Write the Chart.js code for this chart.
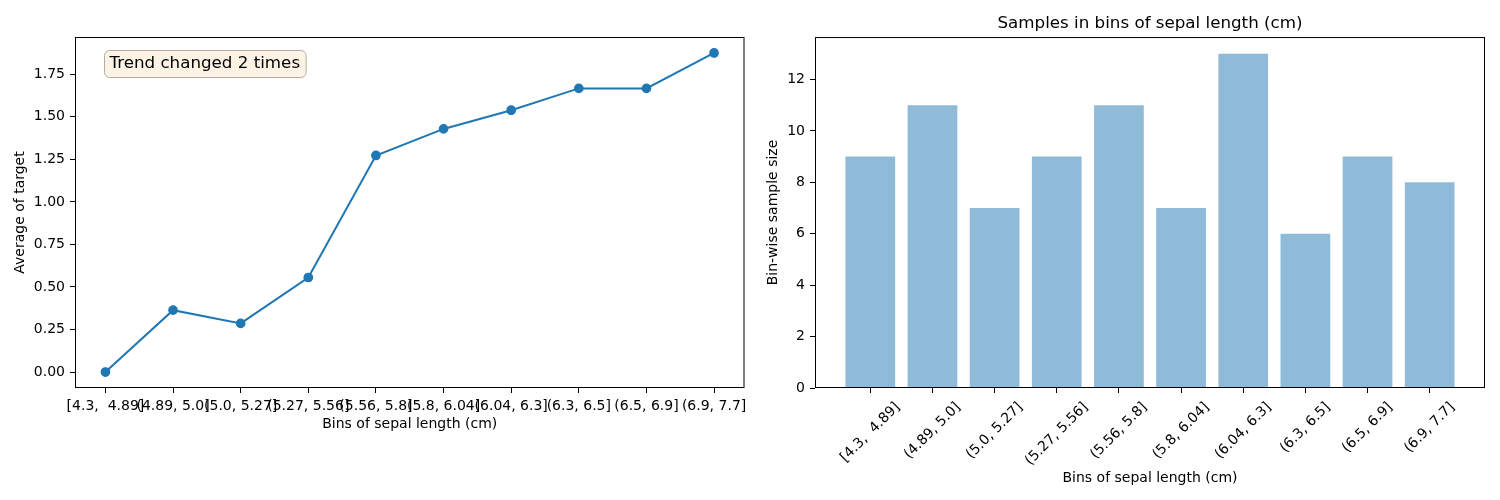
<!DOCTYPE html>
<html>
<head>
<meta charset="utf-8">
<script src="https://cdn.jsdelivr.net/npm/chart.js@4.4.0/dist/chart.umd.min.js"></script>
<style>
  html, body { margin: 0; padding: 0; background: #fff; }
  #wrap { position: relative; width: 1500px; height: 500px; }
  .panel { position: absolute; top: 0; width: 750px; height: 500px; }
</style>
</head>
<body>
<div id="wrap">
  <div class="panel" style="left:0"><canvas id="trendChart" width="750" height="500"></canvas></div>
  <div class="panel" style="left:750px"><canvas id="countChart" width="750" height="500"></canvas></div>
</div>
<script>
"use strict";

// data
const binLabels = [
  "[4.3,  4.89]", "(4.89, 5.0]", "(5.0, 5.27]", "(5.27, 5.56]", "(5.56, 5.8]",
  "(5.8, 6.04]", "(6.04, 6.3]", "(6.3, 6.5]", "(6.5, 6.9]", "(6.9, 7.7]"
];
const targetMeans = [0.0, 0.3636, 0.2857, 0.5556, 1.2727, 1.4286, 1.5385, 1.6667, 1.6667, 1.875];
const sampleSizes = [9, 11, 7, 9, 11, 7, 13, 6, 9, 8];
const trendTicks = [0, 0.25, 0.5, 0.75, 1.0, 1.25, 1.5, 1.75];
const countTicks = [0, 2, 4, 6, 8, 10, 12];
const trendNote = "Trend changed 2 times";
const xTitle = "Bins of sepal length (cm)";

const BLUE = "#1f77b4";
const FONT = "'DejaVu Sans', sans-serif";

Chart.defaults.font.family = FONT;
Chart.defaults.font.size = 14;
Chart.defaults.color = "#000";

const binIndex = binLabels.map((_, i) => i);

// black box round the plot area, like matplotlib spines
const framePlugin = {
  id: "frame",
  afterDraw(chart) {
    const a = chart.chartArea;
    const ctx = chart.ctx;
    ctx.save();
    ctx.strokeStyle = "#000";
    ctx.lineWidth = 1;
    ctx.strokeRect(a.left + 0.5, a.top + 0.5, a.right - a.left - 1, a.bottom - a.top - 1);
    ctx.restore();
  },
};

const tickGrid = {
  drawOnChartArea: false,
  drawTicks: true,
  tickLength: 5,
  tickColor: "#000",
  tickWidth: 1,
};

// keep the plot area where the axes put it, even if end labels stick out
const fixX = (height) => (scale) => {
  scale.height = height;
  scale.paddingLeft = 0;
  scale.paddingRight = 0;
};

// note box in the top-left corner of the line chart
const notePlugin = {
  id: "note",
  afterDraw(chart) {
    const a = chart.chartArea;
    const ctx = chart.ctx;
    ctx.save();
    ctx.font = "16.7px " + FONT;
    const w = ctx.measureText(trendNote).width;
    const tx = a.left + 0.05 * (a.right - a.left);
    const ty = a.top + 0.05 * (a.bottom - a.top);
    const bx = tx - 4.5, by = ty - 5, bw = w + 11, bh = 27;
    ctx.beginPath();
    ctx.roundRect(Math.round(bx) + 0.5, Math.round(by) + 0.5, bw, bh, 5);
    ctx.fillStyle = "rgba(245, 222, 179, 0.35)";
    ctx.fill();
    ctx.strokeStyle = "#b3ada3";
    ctx.lineWidth = 1;
    ctx.stroke();
    ctx.fillStyle = "#000";
    ctx.textBaseline = "middle";
    ctx.textAlign = "left";
    ctx.fillText(trendNote, tx + 1, by + bh / 2 + 1);
    ctx.restore();
  },
};

// rotated bin labels, centred under each tick (matplotlib rotation=45)
const rotatedLabels = {
  id: "rotatedLabels",
  afterDraw(chart) {
    const xs = chart.scales.x;
    const ctx = chart.ctx;
    const s = Math.SQRT1_2;
    ctx.save();
    ctx.font = "14px " + FONT;
    ctx.fillStyle = "#000";
    ctx.textAlign = "center";
    ctx.textBaseline = "middle";
    binLabels.forEach((label, i) => {
      const w = ctx.measureText(label).width;
      const h = 14;
      const boxH = (w + h) * s;
      const cx = xs.getPixelForValue(binIndex[i]);
      const cy = chart.chartArea.bottom + 12 + boxH / 2;
      ctx.save();
      ctx.translate(cx, cy);
      ctx.rotate(-Math.PI / 4);
      ctx.fillText(label, 0, 0);
      ctx.restore();
    });
    ctx.restore();
  },
};

new Chart(document.getElementById("trendChart"), {
  type: "line",
  data: {
    datasets: [
      {
        data: targetMeans.map((v, i) => ({ x: binIndex[i], y: v })),
        borderColor: BLUE,
        backgroundColor: BLUE,
        borderWidth: 2,
        pointRadius: 4.2,
        pointHoverRadius: 4.2,
        pointBorderWidth: 1.3,
        pointBorderColor: BLUE,
        tension: 0,
      },
    ],
  },
  options: {
    responsive: false,
    animation: false,
    layout: { padding: { top: 37, right: 5, left: 0, bottom: 0 } },
    plugins: { legend: { display: false }, tooltip: { enabled: false } },
    scales: {
      x: {
        type: "linear",
        min: -0.45,
        max: 9.45,
        grid: tickGrid,
        border: { display: false },
        afterBuildTicks: (scale) => {
          scale.ticks = binIndex.map((v) => ({ value: v }));
        },
        afterFit: fixX(112),
        ticks: {
          autoSkip: false,
          maxRotation: 0,
          minRotation: 0,
          padding: 5,
          callback: (v) => binLabels[v],
        },
        title: { display: true, text: xTitle, padding: { top: 0, bottom: 67 } },
      },
      y: {
        min: -0.09375,
        max: 1.96875,
        grid: tickGrid,
        border: { display: false },
        afterBuildTicks: (scale) => {
          scale.ticks = trendTicks.map((v) => ({ value: v }));
        },
        afterFit: (scale) => {
          scale.width = 75;
        },
        ticks: { padding: 5, callback: (v) => v.toFixed(2) },
        title: { display: true, text: "Average of target", padding: { top: 12, bottom: 0 } },
      },
    },
  },
  plugins: [framePlugin, notePlugin],
});

new Chart(document.getElementById("countChart"), {
  type: "bar",
  data: {
    datasets: [
      {
        data: sampleSizes.map((v, i) => ({ x: binIndex[i], y: v })),
        backgroundColor: "rgba(31, 119, 180, 0.5)",
        borderWidth: 0,
        barPercentage: 0.8,
        categoryPercentage: 1,
      },
    ],
  },
  options: {
    responsive: false,
    animation: false,
    layout: { padding: { top: 0, right: 15, left: 0, bottom: 0 } },
    plugins: {
      legend: { display: false },
      tooltip: { enabled: false },
      title: {
        display: true,
        fullSize: false,
        text: "Samples in bins of sepal length (cm)",
        font: { size: 16.7, weight: "normal" },
        color: "#000",
        padding: { top: 14, bottom: 3 },
      },
    },
    scales: {
      x: {
        type: "linear",
        min: -0.89,
        max: 9.89,
        offset: false,
        grid: Object.assign({}, tickGrid, { offset: false }),
        border: { display: false },
        afterBuildTicks: (scale) => {
          scale.ticks = binIndex.map((v) => ({ value: v }));
        },
        afterFit: fixX(112),
        ticks: { display: false },
        title: { display: true, text: xTitle, padding: { top: 0, bottom: 13 } },
      },
      y: {
        min: 0,
        max: 13.65,
        grid: tickGrid,
        border: { display: false },
        afterBuildTicks: (scale) => {
          scale.ticks = countTicks.map((v) => ({ value: v }));
        },
        afterFit: (scale) => {
          scale.width = 65;
        },
        ticks: { padding: 5 },
        title: { display: true, text: "Bin-wise sample size", padding: { top: 14.5, bottom: 0 } },
      },
    },
  },
  plugins: [framePlugin, rotatedLabels],
});
</script>
</body>
</html>
